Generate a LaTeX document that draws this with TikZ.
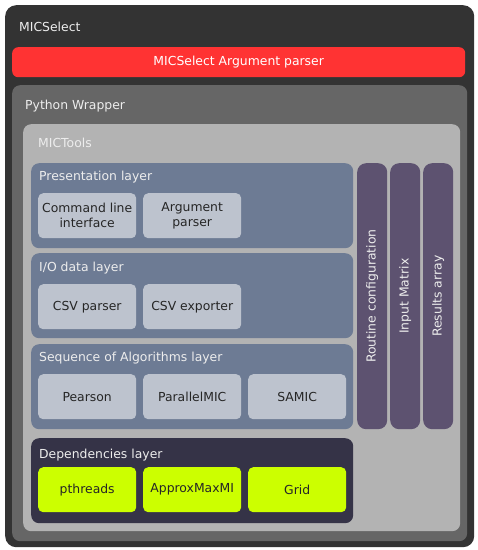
\documentclass[tikz,border=0pt]{standalone}
\usepackage{fontspec}
\setmainfont{DejaVu Sans}
\usetikzlibrary{positioning}
\newdimen\boxW
\boxW=98pt
\definecolor{micDark}{HTML}{333333}
\definecolor{micRed}{HTML}{FF3333}
\definecolor{wrapGray}{HTML}{666666}
\definecolor{toolGray}{HTML}{B3B3B3}
\definecolor{layerBlue}{HTML}{6D7B94}
\definecolor{itemGray}{HTML}{BDC3CE}
\definecolor{barPurple}{HTML}{5D5270}
\definecolor{depNavy}{HTML}{353347}
\definecolor{limeGreen}{HTML}{CCFF00}

\begin{document}
\begin{tikzpicture}[
    x=1pt,y=-1pt,
    panel/.style={%
      rectangle,
      rounded corners=8pt,
      inner sep=0pt,
      anchor=north west,
    },
    title/.style={%
      anchor=west,
      inner sep=0pt,
      text=white!93!black,
      font=\fontsize{12.4}{15}\selectfont,
    },
    item/.style={%
      panel,
      rounded corners=5pt,
      fill=itemGray,
      minimum width=\boxW,
      minimum height=45,
      align=center,
      text=black!85,
      font=\fontsize{12.4}{15}\selectfont,
    },
    bar/.style={%
      panel,
      rounded corners=9pt,
      fill=barPurple,
      minimum width=30,
      minimum height=266,
    },
  ]
    \useasboundingbox (0,0) rectangle (478,550);

    % outer frames
    \node [panel, rounded corners=11pt, fill=micDark, minimum width=469, minimum height=542] (mic) at (5,5) {};
    \node [title] (micLbl) at (19,27) {MICSelect};
    \node [panel, rounded corners=6pt, fill=micRed, minimum width=453, minimum height=30,
      text=white, font=\fontsize{12.4}{15}\selectfont] (argp) at (12,47) {MICSelect Argument parser};
    \node [panel, fill=wrapGray, minimum width=455, minimum height=456] (wrap) at (12,85) {};
    \node [title] (wrapLbl) at (25,106) {Python Wrapper};
    \node [panel, fill=toolGray, minimum width=437, minimum height=407] (tools) at (23,124) {};
    \node [title] (toolsLbl) at (38,143) {MICTools};

    % layers
    \node [panel, fill=layerBlue, minimum width=322, minimum height=85] (pres) at (31,163) {};
    \node [title] (presLbl) at (39,177) {Presentation layer};
    \node [item] (cli) at (38,193) {Command line\\interface};
    \node [item] (argparse) at (143,193) {Argument\\parser};

    \node [panel, fill=layerBlue, minimum width=322, minimum height=85] (io) at (31,253) {};
    \node [title] (ioLbl) at (39,268) {I/O data layer};
    \node [item] (csvin) at (38,284) {CSV parser};
    \node [item] (csvout) at (143,284) {CSV exporter};

    \node [panel, fill=layerBlue, minimum width=322, minimum height=85] (algo) at (31,344) {};
    \node [title] (algoLbl) at (39,358) {Sequence of Algorithms layer};
    \node [item] (pearson) at (38,374) {Pearson};
    \node [item] (pmic) at (143,374) {ParallelMIC};
    \node [item] (samic) at (248,374) {SAMIC};

    \node [panel, fill=depNavy, minimum width=322, minimum height=85] (deps) at (31,438) {};
    \node [title] (depsLbl) at (39,455) {Dependencies layer};
    \node [item, fill=limeGreen] (pthr) at (38,467) {pthreads};
    \node [item, fill=limeGreen] (approx) at (143,467) {ApproxMaxMI};
    \node [item, fill=limeGreen] (grid) at (248,467) {Grid};

    % side bars
    \node [bar] (routine) at (357,163) {};
    \node [bar] (matrix) at (390,163) {};
    \node [bar] (results) at (423,163) {};
    \node [title, anchor=center, rotate=90] (routineLbl) at (routine.center) {Routine configuration};
    \node [title, anchor=center, rotate=90] (matrixLbl) at (matrix.center) {Input Matrix};
    \node [title, anchor=center, rotate=90] (resultsLbl) at (results.center) {Results array};
\end{tikzpicture}
\end{document}
